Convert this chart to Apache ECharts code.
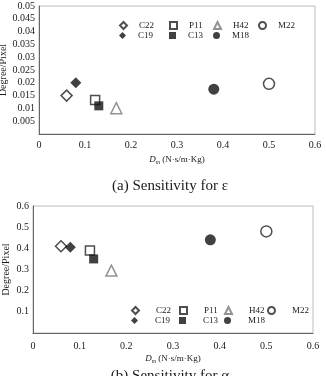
<!DOCTYPE html>
<html>
<head>
<meta charset="utf-8">
<script src="https://cdn.jsdelivr.net/npm/echarts@6/dist/echarts.min.js"></script>
<style>
  html, body { margin: 0; padding: 0; background: #fff; }
  #chart { width: 326px; height: 376px; }
</style>
</head>
<body>
<div id="chart"></div>
<script>
// sample names and marker styles
const names = ['C22', 'C19', 'P11', 'C13', 'H42', 'M18', 'M22'];
const symbols = ['diamond', 'diamond', 'rect', 'rect', 'triangle', 'circle', 'circle'];
const filled = [false, true, false, true, false, true, false];
// Dm values (x) shared by both panels
const dm = [0.06, 0.08, 0.122, 0.13, 0.168, 0.38, 0.5];
// (a) sensitivity for epsilon
const epsValues = [0.015, 0.02, 0.0133, 0.011, 0.0101, 0.0175, 0.0196];
// (b) sensitivity for alpha
const alphaValues = [0.41, 0.405, 0.39, 0.35, 0.295, 0.44, 0.48];

// legend grid: [name, column, row]
const legendCells = [
  ['C22', 0, 0], ['P11', 1, 0], ['H42', 2, 0], ['M22', 3, 0],
  ['C19', 0, 1], ['C13', 1, 1], ['M18', 2, 1]
];

const font = 'Liberation Serif';
const ink = '#1a1a1a';

function makeSeries(vals, idx) {
  return names.map((n, i) => ({
    name: n,
    type: 'scatter',
    xAxisIndex: idx,
    yAxisIndex: idx,
    symbol: symbols[i],
    symbolSize: symbols[i] === 'rect' ? 9 : 11,
    itemStyle: {
      color: filled[i] ? '#111' : '#fff',
      borderColor: symbols[i] === 'triangle' ? '#777' : '#222',
      borderWidth: filled[i] ? 0 : 1.5
    },
    data: [[dm[i], vals[i]]]
  }));
}

function legends(x0, y0, colX, textPad) {
  return legendCells.map(([n, c, r]) => ({
    data: [n],
    left: x0 + colX[c],
    top: y0 + r * 10,
    itemWidth: 7,
    itemHeight: 7,
    padding: 0,
    selectedMode: false,
    textStyle: { fontFamily: font, fontSize: 9, color: ink, padding: [0, 0, 0, textPad] }
  }));
}

const xName = '{d|D}{s|m} (N·s/m·Kg)';
const xNameStyle = {
  fontFamily: font, fontSize: 9, color: ink,
  rich: {
    d: { fontFamily: font, fontStyle: 'italic', fontSize: 9, color: ink },
    s: { fontFamily: font, fontStyle: 'italic', fontSize: 6, color: ink, verticalAlign: 'bottom', padding: [4, 0, 0, 0] }
  }
};

function xAxis(idx, gap, nameGap) {
  return {
    gridIndex: idx,
    type: 'value',
    min: 0, max: 0.6, interval: 0.1,
    name: xName,
    nameLocation: 'middle',
    nameGap: nameGap,
    nameMoveOverlap: false,
    nameTextStyle: xNameStyle,
    axisLine: { lineStyle: { color: '#666', width: 1 } },
    axisTick: { show: false },
    splitLine: { show: false },
    axisLabel: { fontFamily: font, fontSize: 10, color: ink, margin: gap }
  };
}

function yAxis(idx, max, interval, nameGap) {
  return {
    gridIndex: idx,
    type: 'value',
    min: 0, max: max, interval: interval,
    name: 'Degree/Pixel',
    nameLocation: 'middle',
    nameGap: nameGap,
    nameMoveOverlap: false,
    nameTextStyle: { fontFamily: font, fontSize: 10, color: ink },
    axisLine: { show: true, lineStyle: { color: '#666', width: 1 } },
    axisTick: { show: false },
    splitLine: { show: false },
    axisLabel: {
      fontFamily: font, fontSize: 10, color: ink, margin: 4,
      formatter: v => (v === 0 ? '' : String(+v.toFixed(3)))
    }
  };
}

const chart = echarts.init(document.getElementById('chart'), null, { renderer: 'canvas' });
chart.setOption({
  animation: false,
  backgroundColor: '#fff',
  title: [
    {
      text: '(a) Sensitivity for ε', left: 165, top: 174, textAlign: 'center',
      textStyle: { fontFamily: font, fontSize: 15, fontWeight: 'normal', color: ink }
    },
    {
      text: '(b) Sensitivity for α', left: 165, top: 364, textAlign: 'center',
      textStyle: { fontFamily: font, fontSize: 15, fontWeight: 'normal', color: ink }
    }
  ],
  grid: [
    { left: 39, right: 11, top: 6, bottom: 242, show: true, borderColor: '#bbb', borderWidth: 1, outerBoundsMode: 'none' },
    { left: 33, right: 13, top: 206, bottom: 43, show: true, borderColor: '#bbb', borderWidth: 1, outerBoundsMode: 'none' }
  ],
  legend: legends(119, 21, [0, 50, 94, 139], 7).concat(legends(131, 306, [0, 48, 93, 136], 12)),
  xAxis: [xAxis(0, 6, 21), xAxis(1, 8, 21)],
  yAxis: [yAxis(0, 0.05, 0.005, 31), yAxis(1, 0.6, 0.1, 22)],
  series: makeSeries(epsValues, 0).concat(makeSeries(alphaValues, 1))
});
</script>
</body>
</html>
